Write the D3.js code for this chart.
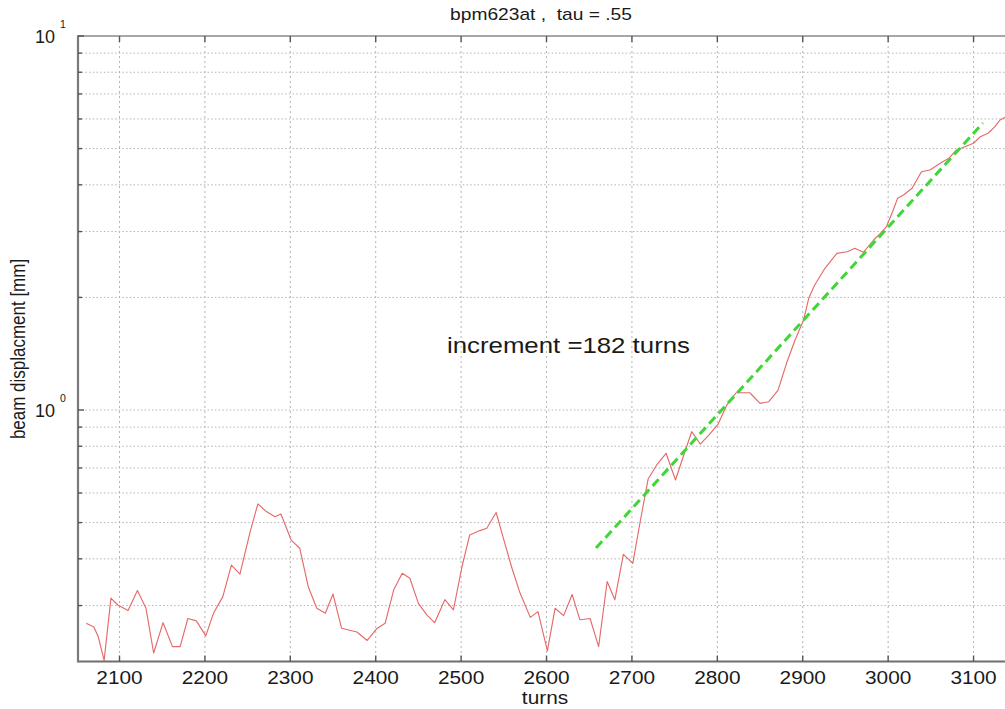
<!DOCTYPE html>
<html>
<head>
<meta charset="utf-8">
<script src="https://cdn.jsdelivr.net/npm/d3@7"></script>
<style>
  html, body { margin: 0; padding: 0; background: #fff; }
  svg { display: block; }
  text { font-family: "Liberation Sans", Arial, Helvetica, sans-serif; fill: #1a1a1a; white-space: pre; }
</style>
</head>
<body>
<svg id="chart" width="1005" height="709"></svg>
<script>
// ---- data ----
const turns = [2061,2070,2075,2082,2090,2098,2110,2121,2131,2140,
  2151,2162,2171,2180,2190,2201,2210,2221,2231,2241,
  2253,2262,2272,2282,2289,2301,2311,2321,2331,2341,
  2350,2360,2378,2390,2401,2411,2421,2431,2440,2450,
  2460,2469,2481,2491,2501,2510,2522,2530,2541,2549,
  2559,2569,2581,2590,2601,2610,2620,2630,2639,2651,
  2661,2671,2680,2690,2701,2710,2719,2729,2740,2751,
  2760,2770,2780,2790,2801,2811,2822,2838,2850,2860,
  2871,2881,2891,2901,2907,2914,2926,2940,2952,2961,
  2971,2983,2991,2998,3006,3011,3018,3028,3039,3049,
  3061,3071,3080,3090,3100,3108,3117,3125,3131,3137];
const displacement = [0.269,0.263,0.248,0.214,0.314,0.301,0.291,0.329,0.295,0.224,
  0.270,0.233,0.233,0.277,0.273,0.249,0.286,0.317,0.385,0.364,
  0.473,0.561,0.535,0.518,0.527,0.449,0.427,0.337,0.295,0.286,
  0.322,0.261,0.255,0.242,0.260,0.269,0.330,0.366,0.355,0.304,
  0.283,0.270,0.311,0.292,0.381,0.463,0.476,0.483,0.532,0.458,
  0.381,0.324,0.279,0.289,0.227,0.295,0.282,0.321,0.275,0.277,
  0.233,0.348,0.311,0.411,0.389,0.508,0.654,0.713,0.766,0.650,
  0.750,0.875,0.811,0.857,0.917,1.031,1.112,1.112,1.042,1.052,
  1.128,1.333,1.539,1.740,1.989,2.159,2.393,2.624,2.650,2.706,
  2.641,2.848,2.968,3.091,3.425,3.681,3.757,3.915,4.337,4.382,
  4.567,4.710,4.957,5.058,5.166,5.380,5.494,5.722,5.963,6.063];
// exponential fit (straight on log axis), endpoints
const fitTurns = [2658, 3111];
const fitDisp = [0.4276, 5.854];
const xTicks = [2100,2200,2300,2400,2500,2600,2700,2800,2900,3000,3100];
const yMajor = [1, 10];
const yMajorExp = ["0", "1"];
const yMinor = [0.3,0.4,0.5,0.6,0.7,0.8,0.9,2,3,4,5,6,7,8,9];
const title = "bpm623at ,  tau = .55";
const xLabel = "turns";
const yLabel = "beam displacment [mm]";
const note = "increment =182 turns";

// ---- layout ----
const L = 78, R = 1006, T = 36, B = 661.5;
const svg = d3.select("#chart");
const x = d3.scaleLinear().domain([2051.4, 3138]).range([L, R]);
const y = d3.scaleLog().domain([0.2126, 10]).range([B, T]);

svg.append("defs").append("clipPath").attr("id","clip")
  .append("rect").attr("x", L).attr("y", T).attr("width", R - L).attr("height", B - T);

// grid
const grid = svg.append("g");
grid.selectAll("line.v").data(xTicks).join("line")
  .attr("x1", d => x(d)).attr("x2", d => x(d)).attr("y1", T).attr("y2", B)
  .attr("stroke", "#b4b4b4").attr("stroke-width", 1).attr("stroke-dasharray", "2,3");
grid.selectAll("line.h").data(yMinor.concat([1])).join("line")
  .attr("x1", L).attr("x2", R).attr("y1", d => y(d)).attr("y2", d => y(d))
  .attr("stroke", "#b4b4b4").attr("stroke-width", 1).attr("stroke-dasharray", "1.5,2.2");

// data line
const plot = svg.append("g").attr("clip-path", "url(#clip)");
const pts = turns.map((t, i) => [t, displacement[i]]);
plot.append("path").datum(pts)
  .attr("fill", "none").attr("stroke", "#e56a6a").attr("stroke-width", 1.15)
  .attr("stroke-linejoin", "round")
  .attr("d", d3.line().x(d => x(d[0])).y(d => y(d[1])));

// fit line
const fitPts = fitTurns.map((t, i) => [t, fitDisp[i]]);
plot.append("path").datum(fitPts)
  .attr("fill", "none").attr("stroke", "#40d638").attr("stroke-width", 3)
  .attr("stroke-dasharray", "9,5")
  .attr("d", d3.line().x(d => x(d[0])).y(d => y(d[1])));

// frame
svg.append("line").attr("x1", L).attr("x2", R).attr("y1", T).attr("y2", T)
  .attr("stroke", "#8a8a8a").attr("stroke-width", 1.6);
svg.append("line").attr("x1", L).attr("x2", R).attr("y1", B).attr("y2", B)
  .attr("stroke", "#6e6e6e").attr("stroke-width", 2);
svg.append("line").attr("x1", L).attr("x2", L).attr("y1", T - 0.8).attr("y2", B + 1)
  .attr("stroke", "#7a7a7a").attr("stroke-width", 2.2);

// ticks
const tk = svg.append("g").attr("stroke", "#555").attr("stroke-width", 1.4);
tk.selectAll("line.tt").data(xTicks).join("line")
  .attr("x1", d => x(d)).attr("x2", d => x(d)).attr("y1", T).attr("y2", T + 6);
tk.selectAll("line.bt").data(xTicks).join("line")
  .attr("x1", d => x(d)).attr("x2", d => x(d)).attr("y1", B).attr("y2", B - 6);
tk.selectAll("line.lt").data(yMinor.concat(yMajor)).join("line")
  .attr("x1", L).attr("x2", d => L + (yMajor.includes(d) ? 6 : 4))
  .attr("y1", d => y(d)).attr("y2", d => y(d));

// x tick labels
svg.selectAll("text.xt").data(xTicks).join("text")
  .attr("text-anchor", "middle")
  .attr("font-size", 17.5)
  .attr("transform", d => `translate(${x(d)},683.5) scale(1.19,1)`)
  .text(d => d);

// y tick labels (10^n)
yMajor.forEach((v, i) => {
  svg.append("text").attr("x", 55).attr("y", y(v) + 6.5)
    .attr("text-anchor", "end").attr("font-size", 18).text("10");
  svg.append("text").attr("x", 60).attr("y", y(v) - 8)
    .attr("font-size", 10.5).text(yMajorExp[i]);
});

// title and labels
svg.append("text").attr("text-anchor", "middle").attr("font-size", 16)
  .attr("transform", "translate(541,20) scale(1.2,1)").text(title);
svg.append("text").attr("text-anchor", "middle").attr("font-size", 17.5)
  .attr("transform", "translate(545,704) scale(1.19,1)").text(xLabel);
svg.append("text").attr("text-anchor", "middle").attr("font-size", 17)
  .attr("transform", "translate(25,349) scale(1.15,1) rotate(-90)").text(yLabel);
svg.append("text").attr("font-size", 21.5)
  .attr("transform", "translate(447,353) scale(1.2,1)").text(note);
</script>
</body>
</html>
